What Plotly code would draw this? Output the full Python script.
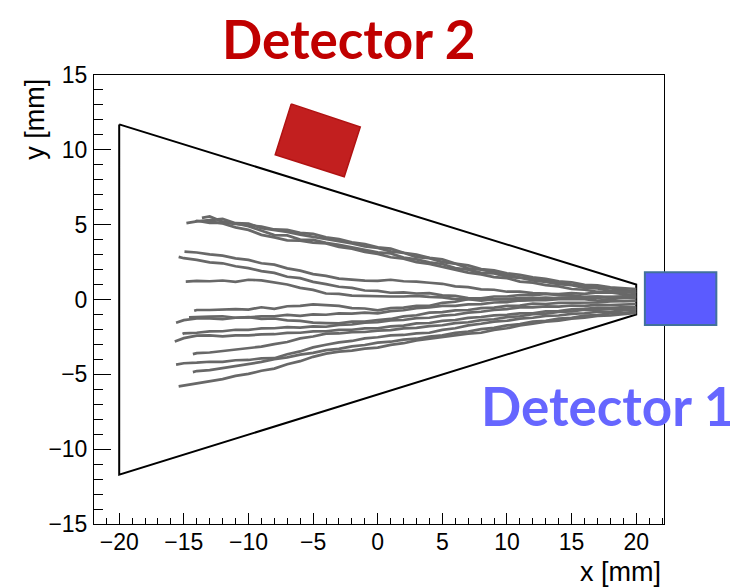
import plotly.graph_objects as go

# ---------------- data (mm) ----------------
X_GRID = list(range(-15, 21))

TRACK_X0 = [-14.8, -13.6, -14.1, -13.2, -14.95, -15.4, -14.85,
            -14.2, -15.6, -14.6, -15.1, -15.7, -14.3, -15.6, -14.3, -15.4]
TRACK_Y = [
    # U1
    [5.10, 5.22, 5.30, 5.38, 5.10, 5.08, 4.76, 4.66, 4.52, 4.33, 4.18, 4.08, 3.90, 3.74, 3.55, 3.45, 3.22,
     3.12, 2.83, 2.76, 2.50, 2.40, 2.08, 1.99, 1.82, 1.66, 1.48, 1.38, 1.25, 1.12, 1.00, 0.92, 0.83, 0.72, 0.60, 0.55],
    # U2
    [5.45, 5.55, 5.20, 5.08, 4.90, 4.62, 4.30, 4.28, 4.00, 3.98, 3.78, 3.65, 3.48, 3.32, 3.15, 3.08, 2.80,
     2.68, 2.48, 2.37, 2.10, 2.00, 1.78, 1.74, 1.52, 1.45, 1.28, 1.17, 1.03, 0.95, 0.78, 0.74, 0.58, 0.55, 0.40],
    # U3
    [5.22, 5.26, 5.12, 5.14, 5.05, 4.98, 4.88, 4.68, 4.65, 4.45, 4.38, 4.15, 4.03, 3.82, 3.70, 3.48, 3.40,
     3.12, 3.00, 2.78, 2.68, 2.40, 2.28, 2.03, 1.95, 1.75, 1.65, 1.48, 1.38, 1.22, 1.15, 0.98, 0.95, 0.82, 0.78, 0.70],
    # U4
    [5.30, 5.22, 5.08, 4.82, 4.65, 4.32, 4.15, 3.95, 3.93, 3.80, 3.75, 3.52, 3.40, 3.18, 3.05, 2.82, 2.73,
     2.50, 2.38, 2.18, 2.03, 1.80, 1.68, 1.50, 1.43, 1.20, 1.13, 0.96, 0.88, 0.70, 0.65, 0.52, 0.48, 0.36, 0.30],
    # B
    [3.20, 3.14, 3.02, 2.93, 2.75, 2.65, 2.42, 2.33, 2.08, 1.93, 1.70, 1.58, 1.40, 1.33, 1.26, 1.25, 1.32,
     1.22, 1.20, 1.12, 1.05, 0.88, 0.83, 0.68, 0.65, 0.52, 0.53, 0.42, 0.40, 0.28, 0.27, 0.18, 0.20, 0.10, 0.14, 0.10],
    # C
    [2.85, 2.76, 2.65, 2.48, 2.42, 2.22, 2.10, 1.90, 1.78, 1.52, 1.43, 1.18, 1.03, 0.85, 0.78, 0.60, 0.57,
     0.45, 0.48, 0.40, 0.42, 0.28, 0.24, 0.10, 0.07, 0.00, 0.03, -0.07, -0.03, -0.04, 0.02, 0.00, 0.03, -0.07, -0.03, -0.10, -0.08],
    # D
    [1.20, 1.24, 1.22, 1.27, 1.18, 1.32, 1.28, 1.12, 1.00, 0.78, 0.64, 0.40, 0.37, 0.26, 0.24, 0.17,
     0.20, 0.20, 0.24, 0.17, 0.14, 0.03, 0.02, -0.07, 0.02, 0.03, 0.10, 0.07, 0.12, 0.08, 0.13, 0.08, 0.14, 0.16, 0.10, 0.15],
    # E
    [-0.75, -0.70, -0.70, -0.66, -0.64, -0.67, -0.52, -0.62, -0.45, -0.42, -0.32, -0.38, -0.43, -0.57, -0.60, -0.72,
     -0.58, -0.54, -0.42, -0.42, -0.22, -0.15, 0.02, 0.08, 0.20, 0.20, 0.30, 0.28, 0.37, 0.36, 0.42, 0.38, 0.47, 0.46, 0.52, 0.50],
    # F
    [-1.55, -1.38, -1.27, -1.26, -1.32, -1.22, -1.20, -1.12, -1.12, -1.03, -1.10, -1.00, -1.02, -0.93, -0.94, -0.88,
     -0.92, -0.78, -0.72, -0.58, -0.52, -0.43, -0.42, -0.33, -0.31, -0.20, -0.17, -0.06, -0.02, 0.07, 0.08, 0.14, 0.14, 0.20, 0.18, 0.24, 0.25],
    # G
    [-1.20, -1.16, -1.14, -1.12, -1.22, -1.18, -1.30, -1.27, -1.40, -1.43, -1.55, -1.58, -1.60, -1.48, -1.47, -1.38,
     -1.30, -1.13, -1.05, -0.88, -0.84, -0.73, -0.70, -0.58, -0.54, -0.43, -0.40, -0.28, -0.30, -0.23, -0.23, -0.18, -0.20, -0.13, -0.14, -0.10],
    # H
    [-2.30, -2.26, -2.22, -2.13, -2.12, -2.02, -2.03, -1.93, -1.92, -1.85, -1.88, -1.80, -1.82, -1.70, -1.67, -1.55,
     -1.52, -1.40, -1.37, -1.25, -1.22, -1.08, -1.02, -0.88, -0.82, -0.70, -0.64, -0.53, -0.52, -0.46, -0.47, -0.40, -0.42, -0.36, -0.37, -0.31, -0.30],
    # I
    [-2.80, -2.58, -2.42, -2.40, -2.47, -2.40, -2.40, -2.33, -2.32, -2.23, -2.22, -2.13, -2.12, -2.03, -2.02, -1.93,
     -1.92, -1.80, -1.74, -1.60, -1.57, -1.43, -1.37, -1.23, -1.17, -1.06, -1.02, -0.93, -0.92, -0.80, -0.77, -0.66, -0.62, -0.56, -0.57, -0.50, -0.50],
    # J
    [-3.65, -3.58, -3.54, -3.43, -3.37, -3.22, -3.15, -2.98, -2.84, -2.60, -2.47, -2.28, -2.27, -2.18, -2.17, -2.08,
     -2.04, -1.93, -1.90, -1.78, -1.72, -1.58, -1.52, -1.38, -1.32, -1.18, -1.12, -0.98, -0.94, -0.83, -0.80, -0.68, -0.70, -0.63, -0.64, -0.60],
    # K
    [-4.35, -4.26, -4.22, -4.16, -4.17, -4.06, -4.04, -3.93, -3.92, -3.66, -3.47, -3.20, -3.02, -2.86, -2.77, -2.60,
     -2.52, -2.40, -2.37, -2.26, -2.22, -2.03, -1.92, -1.73, -1.62, -1.48, -1.42, -1.28, -1.22, -1.10, -1.07, -0.96, -0.92, -0.83, -0.82, -0.73, -0.70],
    # L
    [-4.85, -4.78, -4.72, -4.58, -4.47, -4.28, -4.17, -3.98, -3.87, -3.68, -3.57, -3.38, -3.30, -3.13, -3.04, -2.88,
     -2.82, -2.68, -2.62, -2.48, -2.40, -2.23, -2.14, -1.98, -1.90, -1.73, -1.64, -1.48, -1.42, -1.28, -1.22, -1.08, -1.04, -0.93, -0.90, -0.80],
    # M
    [-5.80, -5.74, -5.62, -5.43, -5.32, -5.10, -4.97, -4.76, -4.62, -4.33, -4.12, -3.83, -3.62, -3.48, -3.42, -3.28,
     -3.22, -3.03, -2.92, -2.73, -2.62, -2.48, -2.42, -2.28, -2.22, -2.03, -1.92, -1.73, -1.62, -1.48, -1.42, -1.28, -1.22, -1.10, -1.07, -0.96, -0.90],
]

TRIANGLE_X = [-20, 20, 20, -20, -20]
TRIANGLE_Y = [11.7, 1.0, -1.0, -11.7, 11.7]

DET2_X = [-6.69, -1.35, -2.59, -7.93, -6.69]
DET2_Y = [13.07, 11.53, 8.20, 9.67, 13.07]

DET1_X = [20.67, 26.2]   # outside frame
DET1_Y = [-1.71, 1.82]

X_RANGE = [-21.95, 22.15]
Y_RANGE = [-15, 15]
TICKS_X = [-20, -15, -10, -5, 0, 5, 10, 15, 20]
TICKS_Y = [-15, -10, -5, 0, 5, 10, 15]

# ---------------- figure ----------------
fig = go.Figure()

fig.add_trace(go.Scatter(x=TRIANGLE_X, y=TRIANGLE_Y, mode="lines",
                         line=dict(color="black", width=2), hoverinfo="skip"))

for x0, ys in zip(TRACK_X0, TRACK_Y):
    xs = [x0] + [g for g in X_GRID if g > x0]
    assert len(xs) == len(ys), (x0, len(xs), len(ys))
    fig.add_trace(go.Scatter(x=xs, y=ys, mode="lines",
                             line=dict(color="#686868", width=2.7), hoverinfo="skip"))

fig.add_trace(go.Scatter(x=DET2_X, y=DET2_Y, mode="lines", fill="toself",
                         fillcolor="#C21F1F", line=dict(color="#B01212", width=1.5),
                         hoverinfo="skip"))


def px(v):
    return (v - X_RANGE[0]) / (X_RANGE[1] - X_RANGE[0])


def py(v):
    return (v - Y_RANGE[0]) / (Y_RANGE[1] - Y_RANGE[0])


fig.add_shape(type="rect", xref="paper", yref="paper",
              x0=px(DET1_X[0]), x1=px(DET1_X[1]), y0=py(DET1_Y[0]), y1=py(DET1_Y[1]),
              fillcolor="#5B5BFF", line=dict(color="#41719C", width=2), layer="above")

axis_common = dict(showline=True, linecolor="black", linewidth=1, mirror=True,
                   showgrid=False, zeroline=False, ticks="inside", tickcolor="black",
                   tickfont=dict(family="Liberation Sans", size=23, color="black"),
                   tickmode="array")

fig.update_xaxes(range=X_RANGE, tickvals=TICKS_X,
                 ticktext=[str(v).replace("-", "\u2212") for v in TICKS_X],
                 ticklen=11, ticklabelstandoff=-3,
                 minor=dict(dtick=1, tick0=0, ticks="inside", ticklen=6, tickcolor="black", showgrid=False),
                 **axis_common)
fig.update_yaxes(range=Y_RANGE, tickvals=TICKS_Y,
                 ticktext=[str(v).replace("-", "\u2212") for v in TICKS_Y],
                 ticklen=17, ticklabelstandoff=1,
                 minor=dict(dtick=1, tick0=0, ticks="inside", ticklen=9, tickcolor="black", showgrid=False),
                 **axis_common)

fig.add_annotation(text="y [mm]", xref="paper", yref="paper", x=-0.1035, y=0.995,
                   xanchor="center", yanchor="top", textangle=-90, showarrow=False,
                   font=dict(family="Liberation Sans", size=27, color="black"))
fig.add_annotation(text="x [mm]", xref="paper", yref="paper", x=0.999, y=-0.108,
                   xanchor="right", yanchor="middle", showarrow=False,
                   font=dict(family="Liberation Sans", size=27, color="black"))
fig.add_annotation(text="<b>Detector 2</b>", xref="paper", yref="paper", x=0.447, y=1.0824,
                   xanchor="center", yanchor="middle", showarrow=False,
                   font=dict(family="Lato", size=53, color="#C00000"))
fig.add_annotation(text="<b>Detector 1</b>", xref="paper", yref="paper", x=0.902, y=0.265,
                   xanchor="center", yanchor="middle", showarrow=False,
                   font=dict(family="Lato", size=53, color="#6666FF"))

fig.update_layout(width=730, height=580, showlegend=False,
                  margin=dict(l=86, r=74, t=67, b=64),
                  paper_bgcolor="white", plot_bgcolor="white")

fig.write_html("out.html")
